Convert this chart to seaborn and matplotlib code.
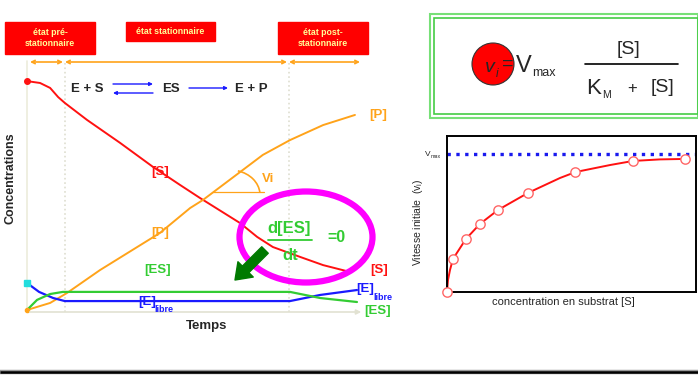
import numpy as np
import pandas as pd
import seaborn as sns
import matplotlib.pyplot as plt
from matplotlib.patches import Rectangle, Ellipse, Circle, Arc

sns.set_style("white")
plt.rcParams['font.family'] = ['Liberation Sans', 'DejaVu Sans']

# data (left plot: 0-100 time / concentration units)
time_S = [0, 3.9, 6.9, 9.3, 11.3, 17.9, 27.8, 37.6, 45.7, 51.6, 63.6, 68.7, 73.4, 81.5, 88.4, 96.4]
conc_S = [97.4, 96.6, 94.5, 90.6, 88.1, 80.9, 71.1, 60.9, 53.2, 47.7, 37.0, 31.1, 26.8, 22.6, 19.1, 16.2]

time_P = [0, 6.9, 11.9, 21.8, 39.7, 48.7, 52.5, 63.6, 70.4, 78.5, 88.4, 97.9]
conc_P = [0, 3.0, 7.2, 17.0, 32.8, 43.4, 46.8, 58.7, 66.0, 72.3, 78.7, 83.0]

time_E = [0, 3.6, 7.8, 11.3, 78.5, 87.5, 98.5]
conc_E = [11.5, 7.7, 5.1, 3.8, 3.8, 6.4, 8.5]

time_ES = [0, 3.0, 6.9, 10.7, 78.5, 87.5, 98.5]
conc_ES = [0, 4.3, 6.8, 7.7, 7.7, 5.1, 3.4]

pre_end = 11.3
post_start = 78.2

# right plot: Michaelis-Menten
curve_s = [0, 0.4, 1.2, 2.4, 7.6, 13.2, 20.5, 32.5, 45.4, 51.6, 65.5, 74.7, 85.5, 95.6]
curve_v = [0, 7.7, 14.1, 21.2, 34.0, 43.6, 52.6, 63.5, 73.1, 76.9, 81.4, 84.0, 85.0, 85.3]
substrate = [0, 2.4, 7.6, 13.2, 20.5, 32.5, 51.6, 74.7, 95.6]
vitesse = [0, 21.2, 34.0, 43.6, 52.6, 63.5, 76.9, 84.0, 85.3]
vmax = 88.5

RED = '#ff1111'
ORANGE = '#ffa31a'
GREEN = '#33cc33'
BLUE = '#1a1aff'

W, H = 698, 375
fig = plt.figure(figsize=(W / 100, H / 100), dpi=100)


def pos(x0, y0, x1, y1):
    return [x0 / W, (H - y1) / H, (x1 - x0) / W, (y1 - y0) / H]


# left kinetics plot
ax1 = fig.add_axes(pos(27, 75, 362, 310))
ax1.set_xlim(0, 100)
ax1.set_ylim(0, 100)
for s in ax1.spines.values():
    s.set_visible(False)
ax1.set_xticks([])
ax1.set_yticks([])
ax1.patch.set_alpha(0)
ax1.axvline(0, ymin=-0.01, ymax=1.06, color='#ececdc', lw=1.2, clip_on=False, zorder=0)
for xv in [pre_end, post_start]:
    ax1.axvline(xv, ymin=-0.01, ymax=1.06, color='#deded0', ls=':', lw=1.2, clip_on=False, zorder=0)

sns.lineplot(x=time_S, y=conc_S, ax=ax1, color=RED, lw=1.4, sort=False, estimator=None)
sns.lineplot(x=time_P, y=conc_P, ax=ax1, color=ORANGE, lw=1.4, sort=False, estimator=None)
sns.lineplot(x=time_E, y=conc_E, ax=ax1, color=BLUE, lw=1.6, sort=False, estimator=None)
sns.lineplot(x=time_ES, y=conc_ES, ax=ax1, color=GREEN, lw=1.6, sort=False, estimator=None)
ax1.plot(time_S[0], conc_S[0], 'o', color=RED, ms=4, clip_on=False)
ax1.plot(time_E[0], conc_E[0], 's', color='#22dddd', ms=4, clip_on=False)
ax1.plot(time_P[0], conc_P[0], 'o', color=ORANGE, ms=3, clip_on=False)

# right Michaelis-Menten plot
ax2 = fig.add_axes(pos(447, 136, 696, 292))
ax2.set_xlim(0, 100)
ax2.set_ylim(0, 100)
ax2.set_xticks([])
ax2.set_yticks([])
for s in ax2.spines.values():
    s.set_color('black')
    s.set_linewidth(1.4)
ax2.axhline(vmax, color='#1a1aee', ls=':', lw=2.4)
sns.lineplot(x=curve_s, y=curve_v, ax=ax2, color=RED, lw=1.4, sort=False, estimator=None)
sns.scatterplot(x=substrate, y=vitesse, ax=ax2, s=45, facecolor='white',
                edgecolor='#ff6666', linewidth=1.0, zorder=5, clip_on=False)

# overlay in pixel coordinates for the annotations
ov = fig.add_axes([0, 0, 1, 1], zorder=5)
ov.set_xlim(0, W)
ov.set_ylim(H, 0)
ov.axis('off')
ov.patch.set_alpha(0)

# labels of the right plot
ov.text(563, 302, 'concentration en substrat [S]', ha='center', va='center', fontsize=8)
ov.text(418, 222, 'Vitesse initiale  (v$_{\\mathregular{i}}$)', rotation=90,
        ha='center', va='center', fontsize=7.5)

# time axis of the left plot
ov.annotate('', xy=(364, 312), xytext=(27, 312),
            arrowprops=dict(arrowstyle='-|>', color='#e2e2d2', lw=1.2, mutation_scale=7))

# phase headers
headers = [(5, 22, 95, 54, 'état pré-\nstationnaire'),
           (126, 22, 215, 41, 'état stationnaire'),
           (278, 22, 368, 54, 'état post-\nstationnaire')]
for x0, y0, x1, y1, txt in headers:
    ov.add_patch(Rectangle((x0, y0), x1 - x0, y1 - y0, color='#ff0000', zorder=2))
    ov.text((x0 + x1) / 2, (y0 + y1) / 2, txt, ha='center', va='center', color='#ffff99',
            fontsize=6.3, fontweight='bold', linespacing=1.4, zorder=3)
for a, b in [(30, 63), (65, 287), (289, 360)]:
    ov.annotate('', xy=(b, 62), xytext=(a, 62),
                arrowprops=dict(arrowstyle='<->', color=ORANGE, lw=1.2, mutation_scale=6,
                                shrinkA=0, shrinkB=0))

# reaction scheme
ov.text(87, 89, 'E + S', ha='center', va='center', fontsize=9.5, fontweight='bold')
ov.text(171, 89, 'ES', ha='center', va='center', fontsize=9.5, fontweight='bold')
ov.text(251, 89, 'E + P', ha='center', va='center', fontsize=9.5, fontweight='bold')
ov.annotate('', xy=(153, 84), xytext=(113, 84),
            arrowprops=dict(arrowstyle='-|>', color=BLUE, lw=1.0, mutation_scale=5, shrinkA=0, shrinkB=0))
ov.annotate('', xy=(113, 93), xytext=(153, 93),
            arrowprops=dict(arrowstyle='-|>', color=BLUE, lw=1.0, mutation_scale=5, shrinkA=0, shrinkB=0))
ov.annotate('', xy=(228, 88), xytext=(189, 88),
            arrowprops=dict(arrowstyle='-|>', color=BLUE, lw=1.0, mutation_scale=5, shrinkA=0, shrinkB=0))

# curve labels
lab = dict(ha='center', va='center', fontsize=9.5, fontweight='bold')
ov.text(160, 172, '[S]', color=RED, **lab)
ov.text(160, 233, '[P]', color=ORANGE, **lab)
ov.text(158, 270, '[ES]', color=GREEN, **lab)
ov.text(147, 302, '[E]', color=BLUE, **lab)
ov.text(154, 309, 'libre', color=BLUE, ha='left', va='center', fontsize=6.5, fontweight='bold')
ov.text(378, 115, '[P]', color=ORANGE, **lab)
ov.text(379, 270, '[S]', color=RED, **lab)
ov.text(365, 289, '[E]', color=BLUE, **lab)
ov.text(373, 297, 'libre', color=BLUE, ha='left', va='center', fontsize=6.5, fontweight='bold')
ov.text(378, 311, '[ES]', color=GREEN, **lab)

ov.text(11, 178, 'Concentrations', rotation=90, ha='center', va='center', fontsize=9, fontweight='bold')
ov.text(207, 326, 'Temps', ha='center', va='center', fontsize=9.5, fontweight='bold')

# initial rate angle
ov.plot([213, 264], [192, 192], color=ORANGE, lw=0.9)
ov.add_patch(Arc((230, 195), 60, 50, theta1=-72, theta2=-4, color=ORANGE, lw=1.2))
ov.text(268, 179, 'Vi', color=ORANGE, ha='center', va='center', fontsize=9.5, fontweight='bold')

# steady state highlight
ov.add_patch(Ellipse((306, 237), 133, 91, fill=False, ec='#ff00ff', lw=4.5))
ov.text(289, 229, 'd[ES]', color=GREEN, ha='center', va='center', fontsize=12, fontweight='bold')
ov.plot([268, 312], [240, 240], color=GREEN, lw=1.3)
ov.text(290, 255, 'dt', color=GREEN, ha='center', va='center', fontsize=12, fontweight='bold')
ov.text(336, 238, '=0', color=GREEN, ha='center', va='center', fontsize=11.5, fontweight='bold')
ov.annotate('', xy=(235, 280), xytext=(265, 250),
            arrowprops=dict(arrowstyle='simple,head_width=1.3,head_length=0.9,tail_width=0.55',
                            color='#007a00', mutation_scale=12, shrinkA=0, shrinkB=0))

# formula box
ov.add_patch(Rectangle((430, 14), 268, 104, fill=False, ec='#77e077', lw=1.5))
ov.add_patch(Rectangle((434, 18), 264, 96, fill=False, ec='#44cc44', lw=1.2))
ov.add_patch(Circle((493, 64), 21, fc='#ff0000', ec='#333333', lw=0.8))
ov.text(490, 67, 'v', ha='center', va='center', fontsize=14, style='italic')
ov.text(497, 74, 'i', ha='center', va='center', fontsize=8.5, style='italic')
ov.text(508, 64, '=', ha='center', va='center', fontsize=14)
ov.text(524, 66, 'V', ha='center', va='center', fontsize=17)
ov.text(532, 73, 'max', ha='left', va='center', fontsize=9)
ov.text(628, 50, '[S]', ha='center', va='center', fontsize=14)
ov.plot([585, 678], [64, 64], color='black', lw=1.2)
ov.text(594, 88, 'K', ha='center', va='center', fontsize=16)
ov.text(602, 95, 'M', ha='left', va='center', fontsize=7.5)
ov.text(632, 88, '+', ha='center', va='center', fontsize=12)
ov.text(662, 88, '[S]', ha='center', va='center', fontsize=14)

# Vmax label
ov.text(428, 154, 'V', ha='center', va='center', fontsize=6)
ov.text(431, 157, 'max', ha='left', va='center', fontsize=3.8)

# rule at the bottom
ov.plot([0, W], [372, 372], color='#999999', lw=3.2, solid_capstyle='butt')
ov.plot([0, W], [372, 372], color='black', lw=1.8, solid_capstyle='butt')

fig.savefig('out.png', dpi=100)
